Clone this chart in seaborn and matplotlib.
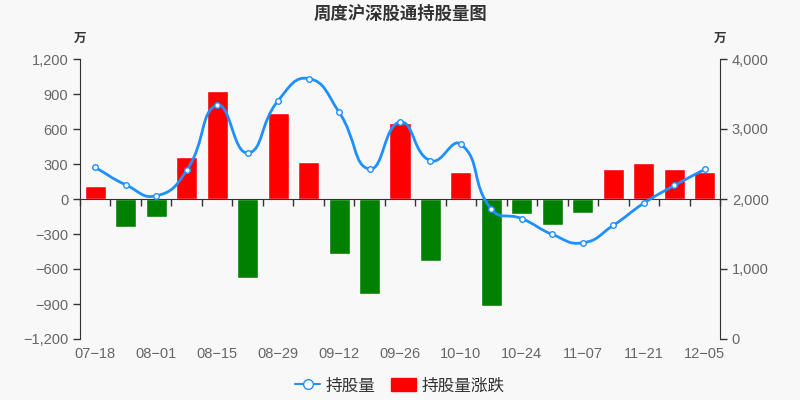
import numpy as np
import pandas as pd

import matplotlib
matplotlib.use("Agg")

import matplotlib.pyplot as plt
import seaborn as sns
from matplotlib.path import Path
from matplotlib.patches import PathPatch, Patch
from matplotlib.lines import Line2D
from matplotlib.ticker import FuncFormatter

# ===========================
# Data (万)
# ===========================

dates = ["07-18", "07-25", "08-01", "08-08", "08-15", "08-22", "08-29",
         "09-05", "09-12", "09-19", "09-26", "10-03", "10-10", "10-17",
         "10-24", "10-31", "11-07", "11-14", "11-21", "11-28", "12-05"]

holdings = [2451, 2203, 2045, 2408, 3338, 2658, 3405,
            3721, 3241, 2428, 3098, 2547, 2782, 1853,
            1719, 1494, 1374, 1624, 1940, 2193, 2423]

changes = [109, -243, -157, 360, 928, -674, 737,
           314, -474, -811, 649, -534, 229, -920,
           -131, -220, -117, 254, 311, 254, 229]

df = pd.DataFrame({"date": dates, "hold": holdings, "chg": changes})
df["sign"] = np.where(df["chg"] >= 0, "up", "down")

# ===========================
# Style
# ===========================

sns.set_style("white")
plt.rcParams["font.family"] = ["Liberation Sans", "Noto Sans CJK SC", "DejaVu Sans"]
plt.rcParams["axes.unicode_minus"] = True

CJK = ["Noto Sans CJK SC", "DejaVu Sans"]
BG = "#f8f8f8"
BLUE = "#1e90ff"
RED = "#ff0000"
GREEN = "#008000"
AXIS = "#333333"
TXT = "#666666"

L, B, W, H = 0.1, 0.1525, 0.8, 0.70

fig = plt.figure(figsize=(8, 4), dpi=100, facecolor=BG)
ax = fig.add_axes([L, B, W, H])
ax.set_facecolor(BG)

# ===========================
# Bars
# ===========================

sns.barplot(
    data=df,
    x="date",
    y="chg",
    hue="sign",
    palette={"up": RED, "down": GREEN},
    dodge=False,
    legend=False,
    width=0.69,
    saturation=1,
    ax=ax
)

ax.set_xlim(-0.5, len(dates) - 0.5)
ax.set_ylim(-1200, 1200)
ax.set_yticks(np.arange(-1200, 1201, 300))
ax.yaxis.set_major_formatter(FuncFormatter(lambda v, p: f"{int(v):,}".replace("-", "\u2212")))
ax.set_xticks(range(0, len(dates), 2))
ax.set_xticklabels([d.replace("-", "\u2212") for d in dates[::2]])
ax.tick_params(axis="x", length=0, pad=6, labelsize=10.5, labelcolor=TXT)
ax.tick_params(axis="y", left=True, length=5, width=1, color=AXIS, labelsize=10.5, labelcolor=TXT)
ax.set_xlabel("")
ax.set_ylabel("")

for s in ["top", "right", "bottom"]:
    ax.spines[s].set_visible(False)
ax.spines["left"].set_color(AXIS)

# ===========================
# Zero axis line with category boundary ticks
# ===========================

ax0 = fig.add_axes([L, B + H / 2, W, 0.0005])
ax0.set_xlim(-0.5, len(dates) - 0.5)
ax0.patch.set_visible(False)
ax0.set_yticks([])
ax0.set_xticks(np.arange(-0.5, len(dates), 1))
ax0.set_xticklabels([])
ax0.tick_params(axis="x", bottom=True, direction="out", length=5, width=1, color=AXIS)
for s in ["top", "left", "right"]:
    ax0.spines[s].set_visible(False)
ax0.spines["bottom"].set_color(AXIS)

# ===========================
# Line (smoothed, right axis)
# ===========================

ax2 = ax.twinx()
ax2.set_ylim(0, 4000)
ax2.set_yticks(np.arange(0, 4001, 1000))
ax2.yaxis.set_major_formatter(FuncFormatter(lambda v, p: f"{int(v):,}"))
ax2.tick_params(axis="y", right=True, length=5, width=1, color=AXIS, labelsize=10.5, labelcolor=TXT)
for s in ["top", "left", "bottom"]:
    ax2.spines[s].set_visible(False)
ax2.spines["right"].set_color(AXIS)

xs = np.arange(len(holdings), dtype=float)
ys = np.array(holdings, dtype=float)
sx, sy = 30.48, 280 / 4000
px, py = xs * sx, ys * sy
n = len(xs)
cin, cout = [], []
for i in range(n):
    a, b = max(i - 1, 0), min(i + 1, n - 1)
    vx, vy = (px[b] - px[a]) * 0.5, (py[b] - py[a]) * 0.5
    d0 = np.hypot(px[i] - px[a], py[i] - py[a])
    d1 = np.hypot(px[b] - px[i], py[b] - py[i])
    r = d1 / (d0 + d1) if d0 + d1 > 0 else 0.5
    cin.append((px[i] - vx * (1 - r), py[i] - vy * (1 - r)))
    cout.append((px[i] + vx * r, py[i] + vy * r))

verts = [(px[0], py[0])]
codes = [Path.MOVETO]
for i in range(n - 1):
    verts += [cout[i], cin[i + 1], (px[i + 1], py[i + 1])]
    codes += [Path.CURVE4] * 3
verts = [(vx_ / sx, vy_ / sy) for vx_, vy_ in verts]
ax2.add_patch(PathPatch(Path(verts, codes), facecolor="none", edgecolor=BLUE, lw=2, zorder=3))

sns.scatterplot(
    x=xs, y=ys, ax=ax2, marker="o", s=16,
    facecolor="white", edgecolor=BLUE, linewidth=1, zorder=4
)

# ===========================
# Texts
# ===========================

fig.text(0.5, 0.965, "周度沪深股通持股量图", ha="center", va="center",
         fontsize=12.5, fontweight="bold", color="#333333", family=CJK)
fig.text(0.1, 0.905, "万", ha="center", va="center", fontsize=9, fontweight="bold",
         color="#333333", family=CJK)
fig.text(0.9, 0.905, "万", ha="center", va="center", fontsize=9, fontweight="bold",
         color="#333333", family=CJK)

handles = [
    Line2D([0], [0], color=BLUE, lw=1.5, marker="o", markersize=7,
           markerfacecolor="white", markeredgecolor=BLUE),
    Patch(facecolor=RED, edgecolor=RED),
]
fig.legend(handles, ["持股量", "持股量涨跌"], loc="center", bbox_to_anchor=(0.5, 0.035),
           ncol=2, frameon=False, handlelength=1.5, handleheight=0.8, handletextpad=0.35,
           columnspacing=0.9, labelcolor="#333333", prop={"family": CJK, "size": 12})

plt.savefig("out.png", dpi=100, facecolor=BG)
plt.close()
